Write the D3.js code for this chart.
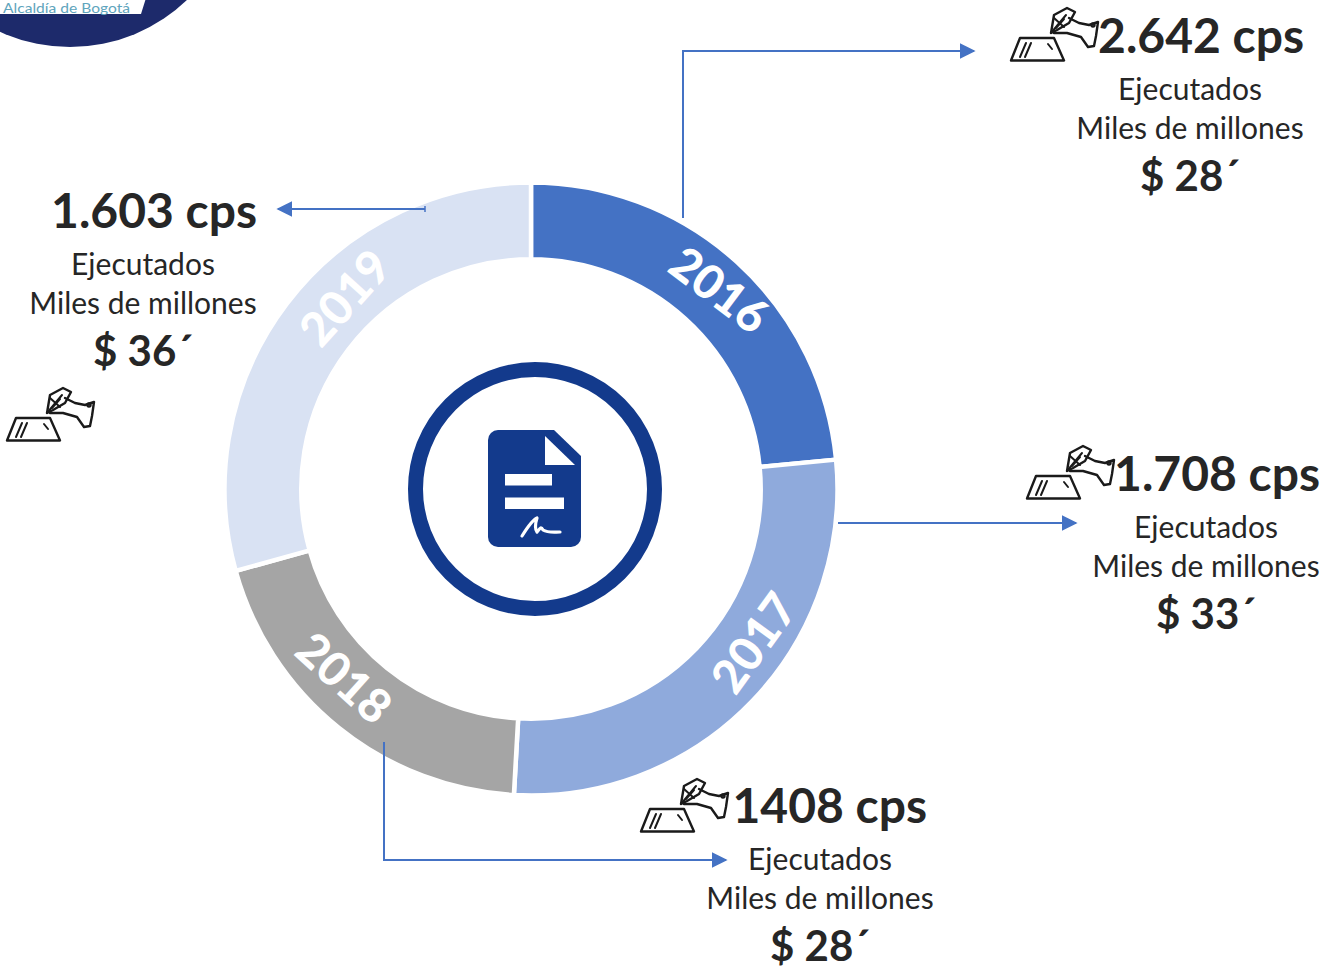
<!DOCTYPE html>
<html><head><meta charset="utf-8">
<script src="https://cdn.jsdelivr.net/npm/d3@7/dist/d3.min.js"></script>
<style>html,body{margin:0;padding:0;background:#fff}svg{display:block}text{font-family:Lato,"Open Sans",sans-serif}</style>
</head><body><svg id="c" width="1332" height="973"></svg>
<script>
const years = ["2016","2017","2018","2019"];
const shares = [84.5, 98.7, 71.3, 105.5];
const colors = ["#4472c4","#8faadc","#a5a5a5","#d9e2f3"];
const cpsLabels = ["2.642 cps","1.708 cps","1408 cps","1.603 cps"];
const amountLabels = ["$ 28´","$ 33´","$ 28´","$ 36´"];
const subLine1 = "Ejecutados";
const subLine2 = "Miles de millones";

const svg = d3.select("#c");
const cx = 531, cy = 489, R = 306.5, r = 229.7;

// logo fragment
svg.append("circle").attr("cx",70).attr("cy",-122).attr("r",169).attr("fill","#1d2a6b");
svg.append("path").attr("d","M0,-2H146L141,14H0Z").attr("fill","#fff");
svg.append("text").attr("x",3).attr("y",12.5).attr("font-size",12.5).attr("textLength",127).attr("lengthAdjust","spacingAndGlyphs").attr("fill","#5fa5bd").text("Alcaldía de Bogotá");

// donut
const pie = d3.pie().sort(null).value(d=>d.v)(years.map((y,i)=>({y,v:shares[i],c:colors[i]})));
const arc = d3.arc().innerRadius(r).outerRadius(R);
const g = svg.append("g").attr("transform",`translate(${cx},${cy})`);
g.selectAll("path").data(pie).join("path").attr("d",arc).attr("fill",d=>d.data.c)
 .attr("stroke","#fff").attr("stroke-width",4.5);

// year labels
const yearPos = [[720,289,37],[753,642,-54],[345,677,42],[344,297,-48]];
svg.selectAll("text.yr").data(years).join("text").attr("class","yr")
 .attr("transform",(d,i)=>`translate(${yearPos[i][0]},${yearPos[i][1]}) rotate(${yearPos[i][2]})`)
 .attr("text-anchor","middle").attr("dominant-baseline","central")
 .attr("font-size",47).attr("font-weight",900).attr("fill","#fff").text(d=>d);

// centre emblem
const navy="#133a8c";
svg.append("circle").attr("cx",535).attr("cy",489).attr("r",119.5).attr("fill","none").attr("stroke",navy).attr("stroke-width",15);
const doc = svg.append("g").attr("transform","translate(488,430)");
doc.append("path").attr("fill",navy).attr("d","M10,0H66L93,26V107a10,10 0 0 1 -10,10H10a10,10 0 0 1 -10,-10V10a10,10 0 0 1 10,-10Z");
doc.append("path").attr("fill","#fff").attr("d","M57,6L87,35H57Z");
doc.append("rect").attr("x",17).attr("y",44).attr("width",47).attr("height",11.5).attr("fill","#fff");
doc.append("rect").attr("x",17).attr("y",67.5).attr("width",59).attr("height",11.5).attr("fill","#fff");
doc.append("path").attr("fill","none").attr("stroke","#fff").attr("stroke-width",3.2).attr("stroke-linecap","round").attr("stroke-linejoin","round")
 .attr("d","M34,106C39,98 44,90 49,88C47,94 47,100 49,102C52,98 53,96 55,100C60,103 66,102 72,102");

// connectors
svg.append("defs").append("marker").attr("id","ah").attr("viewBox","0 0 10 10").attr("refX",9).attr("refY",5)
 .attr("markerUnits","userSpaceOnUse").attr("markerWidth",16).attr("markerHeight",16).attr("orient","auto")
 .append("path").attr("d","M0,0L10,5L0,10Z").attr("fill","#4472c4");
const connectors = [
 [[683,218],[683,51],[974,51]],
 [[838,523],[1076,523]],
 [[384,742],[384,860],[726,860]],
 [[425,209],[278,209]]
];
svg.selectAll("path.cn").data(connectors).join("path").attr("class","cn")
 .attr("d",d=>d3.line()(d)).attr("fill","none").attr("stroke","#4472c4").attr("stroke-width",2).attr("marker-end","url(#ah)");
svg.append("path").attr("d","M425,206V212").attr("stroke","#4472c4").attr("stroke-width",1.5);

// signing icon
const iconAt = [[1004,0],[1020,438],[634,771],[0,380]];
iconAt.forEach(([x,y])=>{
  const ic = svg.append("g").attr("transform",`translate(${x},${y})`).attr("fill","none").attr("stroke","#1a1a1a").attr("stroke-width",2.4).attr("stroke-linejoin","round").attr("stroke-linecap","round");
  ic.append("path").attr("d","M16,38H50L60,60.5H7Z");
  ic.append("path").attr("stroke-width",2).attr("d","M16,57L22,43M21,57L27,43M44,44L48,49");
  ic.append("path").attr("fill","#fff").attr("d","M47,33L50,15L63,8L71,12L65,23L53,30Z");
  ic.append("path").attr("stroke-width",2).attr("d","M47,33L62,15M52,28L60,19M50,18L60,27");
  ic.append("path").attr("d","M65,18L75,23L85,25L94,22L92,36L90,46L84,47L77,37L63,33L50,33");
  ic.append("circle").attr("cx",89).attr("cy",25).attr("r",1.5);
});

// callout texts
const blocks = [
 {hx:1304,cx:1190,top:53},
 {hx:1320,cx:1206,top:491},
 {hx:927,cx:820,top:823},
 {hx:257,cx:143,top:228}
];
blocks.forEach((b,i)=>{
  svg.append("text").attr("x",b.hx).attr("y",b.top).attr("text-anchor","end").attr("font-size",48).attr("font-weight",700).attr("fill","#262626").text(cpsLabels[i]);
  svg.append("text").attr("x",b.cx).attr("y",b.top+47).attr("text-anchor","middle").attr("font-size",30).attr("fill","#262626").text(subLine1);
  svg.append("text").attr("x",b.cx).attr("y",b.top+86).attr("text-anchor","middle").attr("font-size",30).attr("fill","#262626").text(subLine2);
  svg.append("text").attr("x",b.cx).attr("y",b.top+138).attr("text-anchor","middle").attr("font-size",42).attr("font-weight",700).attr("fill","#262626").text(amountLabels[i]);
});
</script></body></html>
